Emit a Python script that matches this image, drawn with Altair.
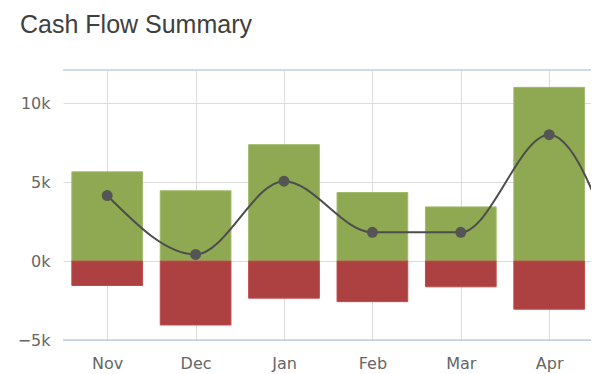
import altair as alt
import pandas as pd

# ---- data ----
months = ["Nov", "Dec", "Jan", "Feb", "Mar", "Apr", "May"]
income = [5650, 4450, 7370, 4340, 3430, 11000]
expense = [-1550, -4050, -2350, -2570, -1630, -3050]
net = [4150, 420, 5060, 1820, 1820, 8000, -4000]
y_ticks = [-5000, 0, 5000, 10000]
y_max = 12100
y_min = -5000

bars = pd.DataFrame({
    "idx": list(range(len(income))) * 2,
    "month": months[:len(income)] * 2,
    "kind": ["Income"] * len(income) + ["Expense"] * len(expense),
    "value": income + expense,
})
line_df = pd.DataFrame({"idx": list(range(len(net))), "month": months[:len(net)], "net": net})

n_visible = len(income)
PLOT_W = 528
STEP = 88.4
x_scale = alt.Scale(domain=[-0.5, -0.5 + PLOT_W / STEP], nice=False, zero=False)
y_scale = alt.Scale(domain=[y_min, y_max], nice=False, zero=False)

label_expr = "[" + ",".join("'%s'" % m for m in months) + "][datum.value]"

FONT = "DejaVu Sans"
GRID = "#dcdcdc"
AXIS_BLUE = "#bdd0e6"

x_axis = alt.Axis(values=list(range(n_visible)), labelExpr=label_expr, title=None,
                  grid=True, gridColor=GRID, domain=False, ticks=False, tickSize=0,
                  labelFont=FONT, labelFontSize=16, labelColor="#666666", labelPadding=15)
y_axis = alt.Axis(values=y_ticks, labelExpr="format(datum.value/1000, 'd') + 'k'", title=None,
                  grid=True, gridColor=GRID, domain=False, ticks=False, tickSize=0,
                  labelFont=FONT, labelFontSize=16, labelColor="#666666", labelPadding=13)

base_bars = alt.Chart(bars).transform_calculate(
    x0="datum.idx - 0.4", x1="datum.idx + 0.4", zero="0"
)

bar_layer = base_bars.mark_bar(clip=True, strokeWidth=1).encode(
    x=alt.X("x0:Q", scale=x_scale, axis=x_axis),
    x2="x1:Q",
    y=alt.Y("zero:Q", scale=y_scale, axis=y_axis),
    y2="value:Q",
    fill=alt.Fill("kind:N", scale=alt.Scale(domain=["Income", "Expense"],
                                            range=["#8ea952", "#ad4040"]), legend=None),
    stroke=alt.Stroke("kind:N", scale=alt.Scale(domain=["Income", "Expense"],
                                                range=["#a0bb68", "#c04b4b"]), legend=None),
)

line_layer = alt.Chart(line_df).mark_line(
    interpolate="monotone", color="#4d4d4d", strokeWidth=2, clip=True
).encode(x=alt.X("idx:Q", scale=x_scale), y=alt.Y("net:Q", scale=y_scale))

point_layer = alt.Chart(line_df).mark_circle(
    size=120, color="#555555", opacity=1, clip=True
).encode(x=alt.X("idx:Q", scale=x_scale), y=alt.Y("net:Q", scale=y_scale))

top_rule = alt.Chart(pd.DataFrame({"v": [y_max]})).mark_rule(
    color=AXIS_BLUE, strokeWidth=1.5
).encode(y=alt.Y("v:Q", scale=y_scale))
bottom_rule = alt.Chart(pd.DataFrame({"v": [y_min]})).mark_rule(
    color=AXIS_BLUE, strokeWidth=1.5
).encode(y=alt.Y("v:Q", scale=y_scale))

chart = alt.layer(bar_layer, line_layer, point_layer, top_rule, bottom_rule).properties(
    width=PLOT_W,
    height=270,
    autosize=alt.AutoSizeParams(type="none"),
    padding={"left": 55, "top": 62, "right": 0, "bottom": 36},
    title=alt.TitleParams(
        "Cash Flow Summary", anchor="start", frame="group", dx=-43, offset=11,
        baseline="alphabetic", font="Liberation Sans", fontSize=25,
        fontWeight="normal", color="#404040",
    ),
).configure_view(stroke=None)

chart.save("out.html", embed_options={"renderer": "svg", "actions": False})
